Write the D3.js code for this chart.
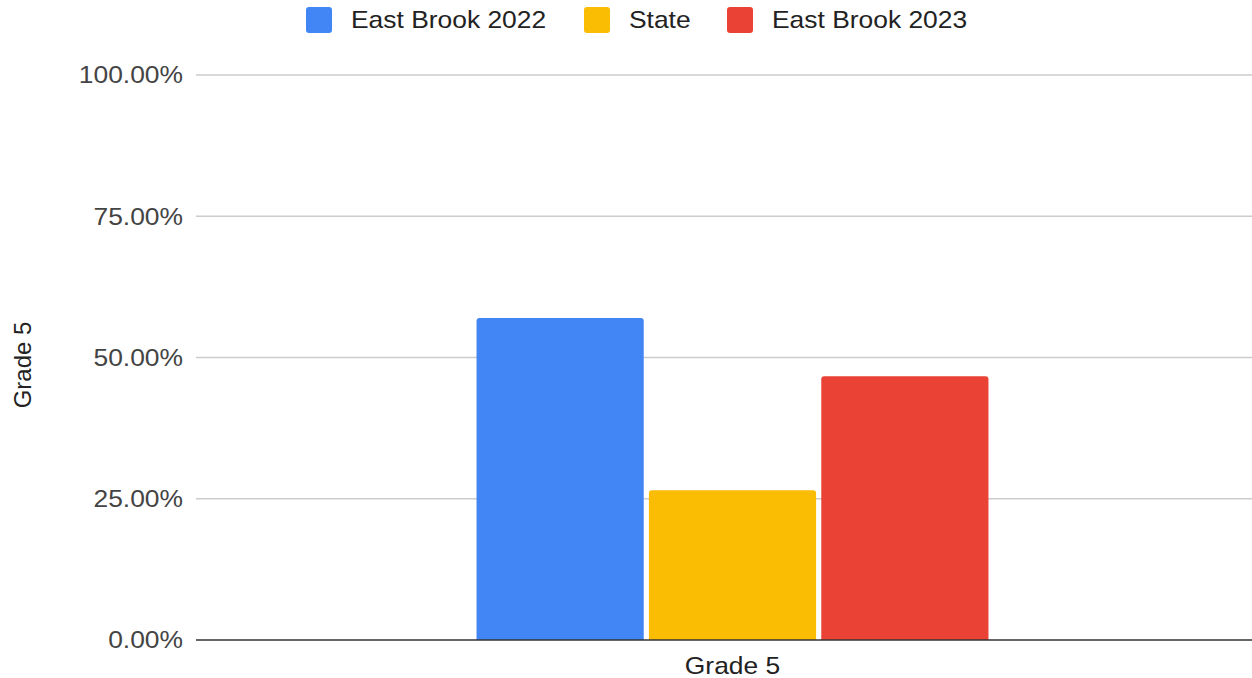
<!DOCTYPE html>
<html><head><meta charset="utf-8">
<script src="https://cdn.jsdelivr.net/npm/d3@7"></script>
<style>
html,body{margin:0;padding:0;background:#fff;}
text{font-family:"Liberation Sans",Arial,sans-serif;}
</style></head>
<body><svg id="c" width="1252" height="678"></svg>
<script>
const categories = ["Grade 5"];
const seriesNames = ["East Brook 2022", "State", "East Brook 2023"];
const seriesColors = ["#4285F4", "#FBBC04", "#EA4335"];
const eastBrook2022 = [0.570];
const state = [0.265];
const eastBrook2023 = [0.467];
const yTicks = [0, 0.25, 0.5, 0.75, 1.0];
const seriesValues = [eastBrook2022, state, eastBrook2023];

const svg = d3.select("#c");
const W = 1252, H = 678;
const m = {left: 196, right: -17, top: 75, bottom: 38};
const fs = 24;
const sx = 1.1; // horizontal stretch of text to match reference

function stretchedText(parent, x, yy, anchor, str, fill) {
  const gg = parent.append("g").attr("transform", `translate(${x},${yy}) scale(${sx},1)`);
  gg.append("text").attr("x", 0).attr("y", 0).attr("dy", "0.35em")
    .attr("text-anchor", anchor).attr("font-size", fs).attr("fill", fill).text(str);
  return gg;
}

const x0 = d3.scaleBand().domain(categories).range([m.left, W - m.right]).paddingInner(0).paddingOuter(0.548);
const x1 = d3.scaleBand().domain(seriesNames).range([0, x0.bandwidth()]).paddingInner(0.03).paddingOuter(0);
const y = d3.scaleLinear().domain([0, 1]).range([H - m.bottom, m.top]);

// gridlines
svg.append("g").selectAll("line").data(yTicks.filter(d => d > 0)).join("line")
  .attr("x1", m.left).attr("x2", W).attr("y1", d => y(d)).attr("y2", d => y(d))
  .attr("stroke", "#cccccc").attr("stroke-width", 1.5);

// y tick labels
const yl = svg.append("g");
yTicks.forEach(d => stretchedText(yl, m.left - 13, y(d), "end", d3.format(".2%")(d), "#444"));

// bars
const g = svg.append("g");
categories.forEach((cat, ci) => {
  seriesNames.forEach((s, si) => {
    const v = seriesValues[si][ci];
    const bx = x0(cat) + x1(s), bw = x1.bandwidth();
    const by = y(v), bh = y(0) - y(v);
    const r = 3;
    g.append("path")
      .attr("d", `M${bx},${by + bh} V${by + r} Q${bx},${by} ${bx + r},${by} H${bx + bw - r} Q${bx + bw},${by} ${bx + bw},${by + r} V${by + bh} Z`)
      .attr("fill", seriesColors[si]);
  });
});

// baseline
svg.append("line").attr("x1", m.left).attr("x2", W).attr("y1", y(0)).attr("y2", y(0))
  .attr("stroke", "#333").attr("stroke-width", 1.5);

// x labels
const xl = svg.append("g");
categories.forEach(d => stretchedText(xl, x0(d) + x0.bandwidth() / 2, y(0) + 26, "middle", d, "#222"));

// y axis title
svg.append("text").attr("transform", `translate(31,${365}) rotate(-90)`)
  .attr("text-anchor", "middle").attr("font-size", fs).attr("fill", "#222").text("Grade 5");

// legend
const legendX = [306, 584, 727];
const lg = svg.append("g");
seriesNames.forEach((s, i) => {
  lg.append("rect").attr("x", legendX[i]).attr("y", 7).attr("width", 26).attr("height", 26)
    .attr("rx", 3).attr("fill", seriesColors[i]);
  stretchedText(lg, legendX[i] + 45, 20, "start", s, "#222");
});
</script></body></html>
